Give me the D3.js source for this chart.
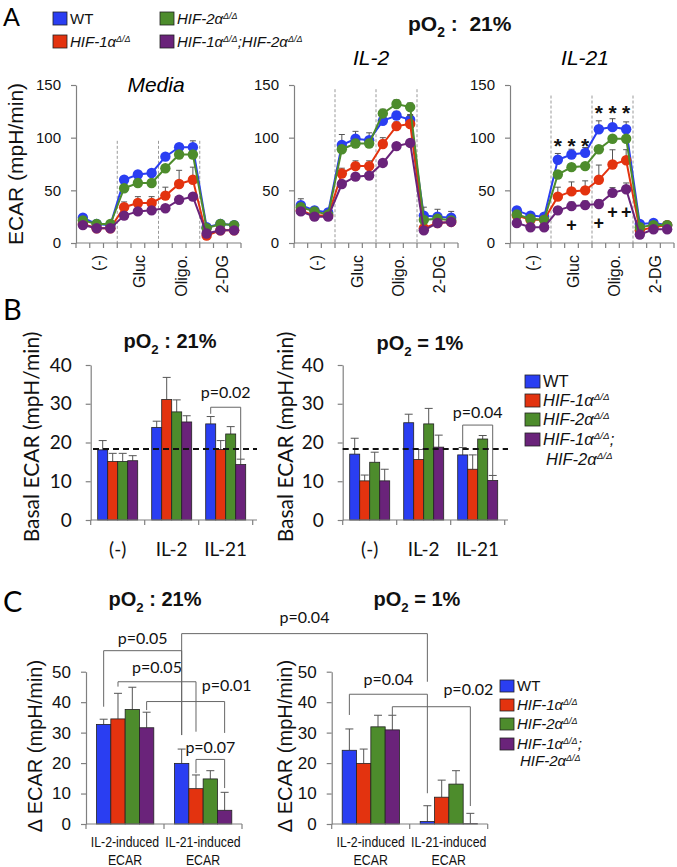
<!DOCTYPE html>
<html><head><meta charset="utf-8">
<script src="https://cdn.jsdelivr.net/npm/d3@7"></script>
<style>body{margin:0;background:#fff}text{white-space:pre}</style>
</head><body><svg id="c" width="677" height="867"></svg>
<script>
// ---------- DATA ----------
const seriesKeys = ["WT","HIF1","HIF2","DKO"];
const colors = ["#2a3ef2","#e3330f","#4d8c2c","#6a237a"];
const timeLabels = ["(-)","Gluc","Oligo.","2-DG"];
const timeLabelIdx = [1,4,7,10];
const aTicks = [0,50,100,150];

const mediaWT  = [24,18,17,60,65,66.5,82,91,91,15,18,17];
const mediaH1  = [18,14,14,34,38,38,45,56,60,7,12,12];
const mediaH2  = [21.5,18,18,52,57,57,71,84,84,14,18,17];
const mediaDKO = [17,14,14,26,30,31,33,41,44,9,12,12];
const mediaErrWT  = [2,2,2,3,3,3,3,3,6,2,2,2];
const mediaErrH1  = [2,2,2,5,6,6,8,13,12,2,2,2];
const mediaErrH2  = [2,2,2,3,3,3,3,3,3,2,2,2];
const mediaErrDKO = [2,2,2,2,2,2,2,3,3,2,2,2];

const il2WT  = [36,31,29,93,99,97.6,116,121,117,26,25,24];
const il2H1  = [31,26,26,66,73,73,94,111,113,14,19,20];
const il2H2  = [34,30,27,89,94.5,94.5,123,132,129,22,23,21.5];
const il2DKO = [30,25,25,56,63,64,76,92,95,12,19,20];
const il2ErrWT  = [6,3,3,10,7,7,4,4,5,8,7,6];
const il2ErrH1  = [3,3,3,5,5,5,6,4,8,3,3,3];
const il2ErrH2  = [3,3,3,3,4,4,4,4,4,3,3,3];
const il2ErrDKO = [2,2,2,2,2,2,2,3,3,2,2,2];

const il21WT  = [31,26,25,79,84,85.6,108,110,108,18,19,17];
const il21H1  = [26,22,22,44,49,50,60,74.5,78.6,12,15,17];
const il21H2  = [27,23,22,65,72,73,89,99,99,15,17,17];
const il21DKO = [19,15,15,31,35,36,37,47.6,51,8,13,13];
const il21ErrWT  = [3,3,3,6,5,5,8,8,7,2,2,2];
const il21ErrH1  = [3,3,3,9,9,9,14,14,10,2,2,2];
const il21ErrH2  = [3,3,3,3,3,3,3,3,3,2,2,2];
const il21ErrDKO = [2,2,2,3,4,4,4,5,6,2,2,2];

const starIdx = [3,4,5,6,7,8];
const starVal = [96.8,96.8,96.8,128.2,128.2,128.2];
const plusIdx = [4,6,7,8];
const plusVal = [17.1,19.6,29.7,29.7];

// Panel B
const bCats = ["(-)","IL-2","IL-21"];
const bTicks = [0,10,20,30,40];
const b21WT = [18.1,23.9,24.8], b21H1 = [15.1,31.1,18.2], b21H2 = [15.1,27.9,22.2], b21DKO = [15.3,25.3,14.3];
const b21ErrWT = [2.4,1.6,1.9], b21ErrH1 = [2.1,5.7,2.3], b21ErrH2 = [2.1,3.1,1.9], b21ErrDKO = [1.3,1.6,1.4];
const b1WT = [17.0,25.1,16.8], b1H1 = [10.1,15.6,13.1], b1H2 = [14.9,24.8,20.9], b1DKO = [10.1,18.8,10.2];
const b1ErrWT = [4.1,2.2,1.9], b1ErrH1 = [1.5,2.6,3.7], b1ErrH2 = [2.6,4.0,0.9], b1ErrDKO = [3.0,3.1,1.3];
const bBaseline = 18.3;

// Panel C
const cCats = ["IL-2-induced|ECAR","IL-21-induced|ECAR"];
const cTicks = [0,10,20,30,40,50];
const c21WT = [32.7,19.9], c21H1 = [34.5,11.6], c21H2 = [37.6,14.8], c21DKO = [31.6,4.5];
const c21ErrWT = [1.7,4.7], c21ErrH1 = [8.4,4.5], c21ErrH2 = [7.3,2.7], c21ErrDKO = [5.1,5.9];
const c1WT = [24.2,0.8], c1H1 = [19.9,8.8], c1H2 = [31.9,13.1], c1DKO = [30.9,0.1];
const c1ErrWT = [7.0,5.2], c1ErrH1 = [4.7,5.6], c1ErrH2 = [3.8,4.4], c1ErrDKO = [4.8,3.4];

// ---------- DRAW ----------
const ARIAL = "'Liberation Sans', Arial, Helvetica, sans-serif";
const CAL = "Lato, 'Open Sans', sans-serif";
const AX = "#808080";
const svg = d3.select("#c");
svg.append("rect").attr("width",677).attr("height",867).attr("fill","#fff");

function rich(sel, x, y, parts, size, family){
  const t = sel.append("text").attr("x",x).attr("y",y).attr("font-size",size).attr("font-family",family).attr("fill","#111");
  let shift = 0;
  parts.forEach(p=>{
    const target = p.sup ? -size*0.36 : p.sub ? size*0.28 : 0;
    const ts = t.append("tspan").attr("dy", target-shift).text(p.t);
    shift = target;
    if(p.sup) ts.attr("font-size", size*0.6);
    if(p.sub) ts.attr("font-size", size*0.66);
    if(p.it) ts.attr("font-style","italic");
  });
  return t;
}
const hif = n => [{t:`HIF-${n}α`,it:1},{t:"Δ/Δ",sup:1,it:1}];
const nameParts = [[{t:"WT"}], hif(1), hif(2), [...hif(1),{t:";",it:1},...hif(2)]];
const po2 = s => [{t:"pO"},{t:"2",sub:1},{t:s}];

// Panel letters
svg.append("text").attr("x",3).attr("y",26).attr("font-family",CAL).attr("font-size",25).text("A");
svg.append("text").attr("x",3).attr("y",320).attr("font-family",CAL).attr("font-size",29).text("B");
svg.append("text").attr("x",3).attr("y",612).attr("font-family",CAL).attr("font-size",29).text("C");

// Legend A
[[53,12],[53,35],[160,12],[160,35]].forEach((p,i)=>{
  svg.append("rect").attr("x",p[0]).attr("y",p[1]).attr("width",14).attr("height",13)
    .attr("fill",colors[i]).attr("stroke","#222").attr("stroke-width",0.8);
  rich(svg, p[0]+17, p[1]+12, nameParts[i], 15, ARIAL);
});
rich(svg, 408, 31, po2(" :  21%"), 21, ARIAL).attr("font-weight","bold");

// ---- Panel A line charts
const aCharts = [
  {title:"Media", tx:156, ty:92, x0:76, x1:241, dashTop:97,
   data:[mediaWT,mediaH1,mediaH2,mediaDKO], err:[mediaErrWT,mediaErrH1,mediaErrH2,mediaErrDKO]},
  {title:"IL-2", tx:371, ty:65, x0:294, x1:458, dashTop:146,
   data:[il2WT,il2H1,il2H2,il2DKO], err:[il2ErrWT,il2ErrH1,il2ErrH2,il2ErrDKO]},
  {title:"IL-21", tx:585, ty:65, x0:510, x1:674, dashTop:140,
   data:[il21WT,il21H1,il21H2,il21DKO], err:[il21ErrWT,il21ErrH1,il21ErrH2,il21ErrDKO], marks:true}
];
const yA = d3.scaleLinear().domain([0,150]).range([243,85]);
aCharts.forEach(c=>{
  const g = svg.append("g");
  const x = d3.scaleBand().domain(d3.range(12)).range([c.x0,c.x1]);
  const bw = x.bandwidth();
  const cx = i => x(i)+bw/2;
  g.append("text").attr("x",c.tx).attr("y",c.ty).attr("text-anchor","middle")
    .attr("font-family",ARIAL).attr("font-size",21).attr("font-style","italic").text(c.title);
  [3,6,9].forEach(i=>{
    g.append("line").attr("x1",x(i)).attr("x2",x(i)).attr("y1",yA(c.dashTop)).attr("y2",yA(0))
      .attr("stroke","#999").attr("stroke-width",1).attr("stroke-dasharray","3,2");
  });
  const ya = g.append("g").attr("transform",`translate(${c.x0},0)`)
    .call(d3.axisLeft(yA).tickValues(aTicks).tickSize(5).tickSizeOuter(0).tickPadding(10));
  ya.selectAll("path,line").attr("stroke",AX).attr("stroke-width",1.2);
  ya.selectAll("text").attr("font-family",ARIAL).attr("font-size",15).attr("fill","#111");
  g.append("line").attr("x1",c.x0).attr("x2",c.x1).attr("y1",yA(0)).attr("y2",yA(0)).attr("stroke",AX).attr("stroke-width",1.2);
  d3.range(13).forEach(k=>{
    const xx = c.x0 + k*bw;
    g.append("line").attr("x1",xx).attr("x2",xx).attr("y1",yA(0)).attr("y2",yA(0)+5).attr("stroke",AX).attr("stroke-width",1.2);
  });
  timeLabelIdx.forEach((i,k)=>{
    g.append("text").attr("transform",`translate(${cx(i)+2},255) rotate(-90)`)
      .attr("text-anchor","end").attr("dominant-baseline","central")
      .attr("font-family",ARIAL).attr("font-size",16).attr("fill","#111").text(timeLabels[k]);
  });
  c.data.forEach((vals,s)=>{
    const sg = g.append("g");
    sg.append("path").datum(vals).attr("fill","none").attr("stroke",colors[s]).attr("stroke-width",2)
      .attr("d", d3.line().x((d,i)=>cx(i)).y(d=>yA(d)));
    vals.forEach((v,i)=>{
      const e = c.err[s][i], top = yA(v+e);
      sg.append("path").attr("d",`M${cx(i)},${yA(v)}V${top}M${cx(i)-3},${top}H${cx(i)+3}`)
        .attr("stroke","#555").attr("stroke-width",1).attr("fill","none");
    });
    sg.selectAll("circle").data(vals).join("circle").attr("cx",(d,i)=>cx(i)).attr("cy",d=>yA(d))
      .attr("r",5.2).attr("fill",colors[s]);
  });
  if(c.marks){
    starIdx.forEach((i,k)=>{
      g.append("text").attr("x",cx(i)).attr("y",yA(starVal[k])+12).attr("text-anchor","middle")
        .attr("font-family",ARIAL).attr("font-size",21).attr("font-weight","bold").attr("fill","#111").text("*");
    });
    plusIdx.forEach((i,k)=>{
      g.append("text").attr("x",cx(i)).attr("y",yA(plusVal[k])+6.5).attr("text-anchor","middle")
        .attr("font-family",ARIAL).attr("font-size",18).attr("font-weight","bold").attr("fill","#111").text("+");
    });
  }
});
svg.append("text").attr("transform","translate(15,164) rotate(-90)").attr("text-anchor","middle")
  .attr("dominant-baseline","central").attr("font-family",ARIAL).attr("font-size",21).attr("fill","#111").text("ECAR (mpH/min)");

// ---- Bar chart helper
function barChart(o){
  const g = svg.append("g");
  const y = d3.scaleLinear().domain([0,o.ymax]).range(o.yr);
  const outer = d3.scaleBand().domain(o.cats).range(o.xr);
  const inner = d3.scaleBand().domain(d3.range(4)).range(o.inner);
  const bx = (ci,s) => outer(o.cats[ci]) + inner(s);
  const bc = (ci,s) => bx(ci,s) + inner.bandwidth()/2;
  o.vals.forEach((vals,s)=>{
    vals.forEach((v,ci)=>{
      const e = o.errs[s][ci], top = y(v+e), c = bc(ci,s);
      g.append("path").attr("d",`M${c},${y(v)}V${top}M${c-4},${top}H${c+4}`)
        .attr("stroke","#555").attr("stroke-width",1).attr("fill","none");
    });
    g.selectAll(null).data(vals).join("rect")
      .attr("x",(d,ci)=>bx(ci,s)).attr("y",d=>y(d)).attr("width",inner.bandwidth()).attr("height",d=>y(0)-y(d))
      .attr("fill",colors[s]).attr("stroke","#222").attr("stroke-width",0.8);
  });
  const ya = g.append("g").attr("transform",`translate(${o.xr[0]},0)`)
    .call(d3.axisLeft(y).tickValues(o.ticks).tickSize(5).tickSizeOuter(0).tickPadding(o.tickPad));
  ya.selectAll("path,line").attr("stroke",AX).attr("stroke-width",1.2);
  ya.selectAll("text").attr("font-family",o.tickFont).attr("font-size",o.tickSize).attr("fill","#111");
  g.append("line").attr("x1",o.xr[0]).attr("x2",o.axisEnd).attr("y1",y(0)).attr("y2",y(0)).attr("stroke",AX).attr("stroke-width",1.2);
  d3.range(o.cats.length+1).forEach(k=>{
    const xx = o.xr[0] + k*outer.bandwidth();
    g.append("line").attr("x1",xx).attr("x2",xx).attr("y1",y(0)).attr("y2",y(0)+5).attr("stroke",AX).attr("stroke-width",1.2);
  });
  o.cats.forEach((cat,ci)=>{
    const cxp = outer(cat)+outer.bandwidth()/2;
    cat.split("|").forEach((line,li)=>{
      g.append("text").attr("transform",`translate(${cxp},${o.labY + li*o.labLH}) scale(${o.labSX},1)`)
        .attr("text-anchor","middle").attr("font-family",o.labFont).attr("font-size",o.labSize).attr("fill","#111").text(line);
    });
  });
  g.append("text").attr("transform",`translate(${o.ylabX},${o.ylabY}) rotate(-90)`).attr("text-anchor","middle")
    .attr("dominant-baseline","central").attr("font-family",o.ylabFont).attr("font-size",o.ylabSize).attr("fill","#111").text(o.ylab);
  rich(g, o.titleX, o.titleY, po2(o.title), 20, ARIAL).attr("font-weight","bold").attr("text-anchor","middle");
  return {g, y, bc};
}
function bracket(g, xa, xb, yTop, ya, yb, label, tx, ty, font){
  g.append("path").attr("d",`M${xa},${ya}V${yTop}H${xb}V${yb}`).attr("fill","none").attr("stroke","#666").attr("stroke-width",1);
  g.append("text").attr("x",tx).attr("y",ty).attr("text-anchor","middle").attr("font-family",font)
    .attr("font-size",16).attr("fill","#111").text(label);
}
function legend(x, tops, sq, tx, size, line2){
  tops.forEach((t,i)=>{
    svg.append("rect").attr("x",x).attr("y",t).attr("width",sq[0]).attr("height",sq[1])
      .attr("fill",colors[i]).attr("stroke","#222").attr("stroke-width",0.8);
    const parts = i<3 ? nameParts[i] : [...hif(1),{t:";",it:1}];
    rich(svg, tx, t+sq[1]-1, parts, size, ARIAL);
  });
  rich(svg, line2[0], line2[1], hif(2), size, ARIAL);
}

// ---- Panel B
const bCommon = {cats:bCats, ymax:40, yr:[520,365], ticks:bTicks, inner:[7,47], tickPad:14,
  tickFont:CAL, tickSize:19, labY:556, labLH:0, labSX:1, labFont:CAL, labSize:19,
  ylab:"Basal ECAR (mpH/min)", ylabFont:CAL, ylabSize:21, ylabY:437};
const B21 = barChart({...bCommon, xr:[90.7,252.7], axisEnd:257,
  vals:[b21WT,b21H1,b21H2,b21DKO], errs:[b21ErrWT,b21ErrH1,b21ErrH2,b21ErrDKO],
  ylabX:30, titleX:170, titleY:348, title:" : 21%"});
const B1 = barChart({...bCommon, xr:[342.7,504.7], axisEnd:508,
  vals:[b1WT,b1H1,b1H2,b1DKO], errs:[b1ErrWT,b1ErrH1,b1ErrH2,b1ErrDKO],
  ylabX:284, titleX:420, titleY:350, title:" = 1%"});
[[B21,93,257],[B1,342.7,508]].forEach(([c,a,b])=>{
  c.g.append("line").attr("x1",a).attr("x2",b).attr("y1",c.y(bBaseline)).attr("y2",c.y(bBaseline))
    .attr("stroke","#111").attr("stroke-width",2).attr("stroke-dasharray","6,4");
});
bracket(B21.g, B21.bc(2,0), B21.bc(2,3), B21.y(29.1), B21.y(27.4), B21.y(15.5), "p=0.02",
  (B21.bc(2,0)+B21.bc(2,3))/2, B21.y(31.5), CAL);
bracket(B1.g, B1.bc(2,0), B1.bc(2,3), B1.y(24.5), B1.y(18.9), B1.y(11.6), "p=0.04",
  (B1.bc(2,0)+B1.bc(2,3))/2, B1.y(26.3), CAL);
legend(525, [375,394,413,433], [15,13], 543, 16.5, [546,465]);

// ---- Panel C
const cCommon = {cats:cCats, ymax:50, yr:[824,671.7], ticks:cTicks, inner:[10.5,67.8], tickPad:10,
  tickFont:ARIAL, tickSize:17, labY:847, labLH:17.5, labSX:0.88, labFont:ARIAL, labSize:14,
  ylab:"Δ ECAR (mpH/min)", ylabFont:ARIAL, ylabSize:20, ylabY:746};
const C21 = barChart({...cCommon, xr:[86,242], axisEnd:242,
  vals:[c21WT,c21H1,c21H2,c21DKO], errs:[c21ErrWT,c21ErrH1,c21ErrH2,c21ErrDKO],
  ylabX:35, titleX:155, titleY:606, title:" : 21%"});
const C1 = barChart({...cCommon, xr:[331.7,487.7], axisEnd:487.7,
  vals:[c1WT,c1H1,c1H2,c1DKO], errs:[c1ErrWT,c1ErrH1,c1ErrH2,c1ErrDKO],
  ylabX:285, titleX:417, titleY:606, title:" = 1%"});
const yc = C21.y;
bracket(C21.g, C21.bc(0,0), C21.bc(1,0), yc(56.9), yc(38.5), yc(29.2), "p=0.05", (C21.bc(0,0)+C21.bc(1,0))/2, yc(59.1), CAL);
bracket(C21.g, C21.bc(0,1), C21.bc(1,1), yc(46.7), yc(45.1), yc(30.3), "p=0.05", (C21.bc(0,1)+C21.bc(1,1))/2, yc(49.5), CAL);
bracket(C21.g, C21.bc(0,3), C21.bc(1,3), yc(40.2), yc(37.4), yc(29.9), "p=0.01", C21.bc(1,3)+2, yc(43.7), CAL);
bracket(C21.g, C21.bc(1,1), C21.bc(1,3), yc(21.2), yc(16.7), yc(11.8), "p=0.07", (C21.bc(1,1)+C21.bc(1,3))/2, yc(23.2), CAL);
bracket(C21.g, C21.bc(1,0), C1.bc(1,0), yc(62.5), yc(29.2), yc(46.7), "p=0.04", (C21.bc(1,0)+C1.bc(1,0))/2, yc(66.1), CAL);
bracket(C1.g, C1.bc(0,0), C1.bc(1,0), yc(42.6), yc(35.8), yc(10.1), "p=0.04", (C1.bc(0,0)+C1.bc(1,0))/2, yc(45.6), CAL);
bracket(C1.g, C1.bc(0,3), C1.bc(1,3), yc(38.5), yc(35.8), yc(5.9), "p=0.02", C1.bc(1,3)-2, yc(42.3), CAL);
legend(500, [680,699,718,738], [14,12], 517, 15, [520,766]);
</script></body></html>
